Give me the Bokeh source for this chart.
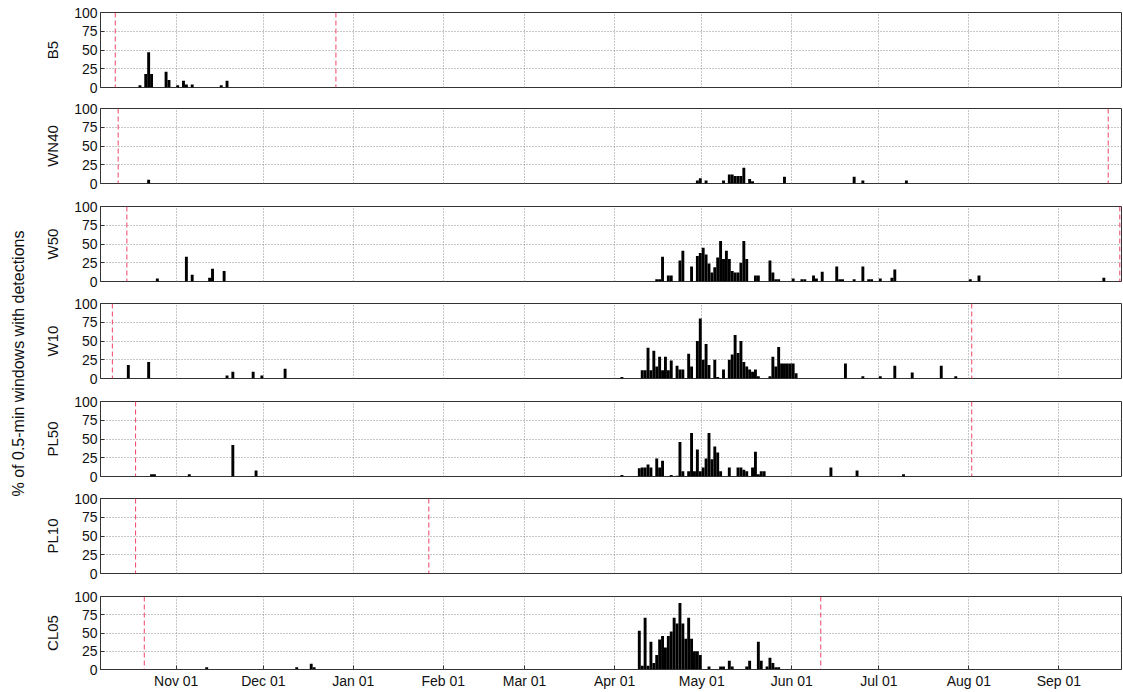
import numpy as np
import pandas as pd
from bokeh.plotting import figure
from bokeh.layouts import column, row
from bokeh.models import Range1d, FixedTicker, Span, ColumnDataSource
from bokeh.embed import file_html
from bokeh.resources import INLINE
from bokeh.core.properties import value

# ---------------- data ----------------
stations = ["B5", "WN40", "W50", "W10", "PL50", "PL10", "CL05"]
y_label = "% of 0.5-min windows with detections"

b5_dates = ["2012-10-19", "2012-10-21", "2012-10-22", "2012-10-23", "2012-10-28", "2012-10-29",
            "2012-11-01", "2012-11-03", "2012-11-04", "2012-11-06", "2012-11-16", "2012-11-18"]
b5_values = [3, 18, 47, 18, 21, 10, 3, 9, 4, 4, 3, 9]

wn40_dates = ["2012-10-22", "2013-04-29", "2013-04-30", "2013-05-02", "2013-05-08", "2013-05-10",
              "2013-05-11", "2013-05-12", "2013-05-13", "2013-05-14", "2013-05-15", "2013-05-17",
              "2013-05-18", "2013-05-29", "2013-06-22", "2013-06-25", "2013-07-10"]
wn40_values = [5, 4, 7, 4, 4, 12, 12, 10, 10, 10, 21, 6, 3, 9, 9, 4, 4]

w50_dates = ["2012-10-25", "2012-11-04", "2012-11-06", "2012-11-12", "2012-11-13", "2012-11-17",
             "2013-04-15", "2013-04-16", "2013-04-17", "2013-04-19", "2013-04-20", "2013-04-23",
             "2013-04-24", "2013-04-27", "2013-04-29", "2013-04-30", "2013-05-01", "2013-05-02",
             "2013-05-03", "2013-05-04", "2013-05-05", "2013-05-06", "2013-05-07", "2013-05-08",
             "2013-05-09", "2013-05-10", "2013-05-11", "2013-05-12", "2013-05-13", "2013-05-14",
             "2013-05-15", "2013-05-16", "2013-05-19", "2013-05-20", "2013-05-24", "2013-05-25",
             "2013-05-26", "2013-05-27", "2013-06-01", "2013-06-04", "2013-06-05", "2013-06-08",
             "2013-06-09", "2013-06-11", "2013-06-16", "2013-06-17", "2013-06-18", "2013-06-22",
             "2013-06-25", "2013-06-27", "2013-06-28", "2013-07-01", "2013-07-05", "2013-07-06",
             "2013-08-01", "2013-08-04", "2013-09-16"]
w50_values = [4, 33, 9, 5, 17, 14,
              3, 3, 33, 8, 8, 28,
              41, 20, 34, 38, 45, 36,
              24, 12, 19, 32, 54, 30,
              41, 30, 14, 12, 12, 25,
              54, 30, 8, 8, 28, 12,
              3, 3, 4, 3, 3, 8,
              4, 13, 20, 3, 3, 3,
              20, 3, 3, 4, 5, 16,
              3, 8, 5]

w10_dates = ["2012-10-15", "2012-10-22", "2012-11-18", "2012-11-20", "2012-11-27", "2012-11-30",
             "2012-12-08", "2013-04-03", "2013-04-10", "2013-04-11", "2013-04-12", "2013-04-13",
             "2013-04-14", "2013-04-15", "2013-04-16", "2013-04-17", "2013-04-18", "2013-04-19",
             "2013-04-20", "2013-04-22", "2013-04-23", "2013-04-24", "2013-04-26", "2013-04-27",
             "2013-04-29", "2013-04-30", "2013-05-01", "2013-05-02", "2013-05-03", "2013-05-05",
             "2013-05-06", "2013-05-08", "2013-05-10", "2013-05-11", "2013-05-12", "2013-05-13",
             "2013-05-14", "2013-05-15", "2013-05-16", "2013-05-17", "2013-05-18", "2013-05-19",
             "2013-05-20", "2013-05-24", "2013-05-25", "2013-05-26", "2013-05-27", "2013-05-28",
             "2013-05-29", "2013-05-30", "2013-05-31", "2013-06-01", "2013-06-02", "2013-06-19",
             "2013-06-25", "2013-07-01", "2013-07-06", "2013-07-12", "2013-07-22", "2013-07-27"]
w10_values = [18, 22, 4, 9, 9, 4,
              13, 2, 11, 11, 41, 11,
              37, 16, 29, 11, 29, 11,
              24, 17, 12, 12, 33, 16,
              50, 80, 25, 46, 18, 25,
              2, 12, 25, 32, 58, 34,
              50, 22, 16, 12, 9, 12,
              3, 3, 29, 16, 42, 20,
              20, 20, 20, 20, 7, 20,
              3, 3, 17, 8, 17, 3]

pl50_dates = ["2012-10-23", "2012-10-24", "2012-11-05", "2012-11-20", "2012-11-28", "2013-04-03",
              "2013-04-09", "2013-04-10", "2013-04-11", "2013-04-12", "2013-04-13", "2013-04-15",
              "2013-04-16", "2013-04-17", "2013-04-20", "2013-04-22", "2013-04-23", "2013-04-24",
              "2013-04-26", "2013-04-27", "2013-04-28", "2013-04-29", "2013-04-30", "2013-05-01",
              "2013-05-02", "2013-05-03", "2013-05-04", "2013-05-05", "2013-05-06", "2013-05-07",
              "2013-05-10", "2013-05-13", "2013-05-14", "2013-05-15", "2013-05-16", "2013-05-18",
              "2013-05-19", "2013-05-20", "2013-05-21", "2013-05-22", "2013-06-14", "2013-06-23",
              "2013-07-09"]
pl50_values = [3, 3, 3, 42, 8, 2,
               11, 12, 12, 16, 12, 24,
               12, 21, 2, 1, 46, 7,
               7, 58, 7, 36, 7, 12,
               24, 58, 23, 40, 32, 7,
               12, 12, 12, 9, 7, 12,
               33, 3, 7, 7, 12, 8,
               3]

pl10_dates = []
pl10_values = []

cl05_dates = ["2012-11-11", "2012-12-12", "2012-12-17", "2012-12-18", "2013-04-09", "2013-04-10",
              "2013-04-11", "2013-04-12", "2013-04-13", "2013-04-14", "2013-04-15", "2013-04-16",
              "2013-04-17", "2013-04-18", "2013-04-19", "2013-04-20", "2013-04-21", "2013-04-22",
              "2013-04-23", "2013-04-24", "2013-04-25", "2013-04-26", "2013-04-27", "2013-04-28",
              "2013-04-29", "2013-04-30", "2013-05-03", "2013-05-07", "2013-05-08", "2013-05-10",
              "2013-05-11", "2013-05-16", "2013-05-17", "2013-05-20", "2013-05-21", "2013-05-23",
              "2013-05-24", "2013-05-25", "2013-05-26", "2013-05-27"]
cl05_values = [3, 3, 8, 3, 53, 5,
               71, 5, 38, 9, 20, 41,
               46, 30, 46, 52, 71, 63,
               91, 63, 42, 71, 42, 25,
               25, 20, 4, 4, 4, 12,
               4, 4, 12, 38, 12, 4,
               16, 9, 3, 3]

# deployment start / end (red dashed lines)
deploy_start = ["2012-10-11", "2012-10-12", "2012-10-15", "2012-10-10", "2012-10-18", "2012-10-18", "2012-10-21"]
deploy_end = ["2012-12-26", "2013-09-18", "2013-09-22", "2013-08-02", "2013-08-02", "2013-01-27", "2013-06-11"]

month_ticks = ["2012-11-01", "2012-12-01", "2013-01-01", "2013-02-01", "2013-03-01", "2013-04-01",
               "2013-05-01", "2013-06-01", "2013-07-01", "2013-08-01", "2013-09-01"]
month_labels = ["Nov 01", "Dec 01", "Jan 01", "Feb 01", "Mar 01", "Apr 01",
                "May 01", "Jun 01", "Jul 01", "Aug 01", "Sep 01"]
y_ticks = [0, 25, 50, 75, 100]
x_start = "2012-10-05 22:00"
x_end = "2013-09-22 14:00"

all_dates = [b5_dates, wn40_dates, w50_dates, w10_dates, pl50_dates, pl10_dates, cl05_dates]
all_values = [b5_values, wn40_values, w50_values, w10_values, pl50_values, pl10_values, cl05_values]

# ---------------- plot ----------------
FONT = "Liberation Sans"
TXT = "#111111"
DAY_MS = 86400000


def ms(s):
    return int(pd.Timestamp(s).value // 10**6)


tick_ms = [ms(t) for t in month_ticks]
xr = Range1d(start=ms(x_start), end=ms(x_end))

PW = 1086
heights = [99, 98, 97, 98, 97, 98, 104]
tops = [12, 9, 9, 9, 9, 9, 9]
figs = []
n = len(stations)
for i in range(n):
    last = i == n - 1
    p = figure(width=PW, height=heights[i], x_axis_type="datetime",
               x_range=xr, y_range=Range1d(0, 100),
               output_backend="svg", toolbar_location=None,
               min_border_left=64, min_border_right=1, min_border_top=tops[i],
               min_border_bottom=heights[i] - tops[i] - 75)
    p.background_fill_color = "white"
    p.border_fill_color = "white"
    p.outline_line_color = "#333333"
    p.outline_line_width = 1

    xs = [ms(d) + DAY_MS // 2 for d in all_dates[i]]
    src = ColumnDataSource(dict(x=xs, top=all_values[i]))
    p.vbar(x="x", top="top", bottom=0, width=DAY_MS, source=src,
           fill_color="black", line_color=None)

    for loc in (deploy_start[i], deploy_end[i]):
        p.add_layout(Span(location=ms(loc), dimension="height", line_color="#ee4466",
                          line_width=1, line_dash="5 3"))

    p.xgrid.ticker = FixedTicker(ticks=tick_ms)
    p.ygrid.ticker = FixedTicker(ticks=y_ticks[1:-1])
    p.grid.grid_line_color = "#8c8c8c"
    p.grid.grid_line_dash = "1 2"
    p.grid.grid_line_width = 1

    p.yaxis.ticker = FixedTicker(ticks=y_ticks)
    p.yaxis.major_tick_in = 4
    p.yaxis.major_tick_out = 0
    p.yaxis.minor_tick_line_color = None
    p.yaxis.axis_line_color = "#333333"
    p.yaxis.major_tick_line_color = "#333333"
    p.yaxis.major_label_text_font = FONT
    p.yaxis.major_label_text_font_size = "14px"
    p.yaxis.major_label_text_color = TXT
    p.yaxis.major_label_standoff = 3
    p.yaxis.axis_label = stations[i]
    p.yaxis.axis_label_text_font = FONT
    p.yaxis.axis_label_text_font_size = "15px"
    p.yaxis.axis_label_text_font_style = "normal"
    p.yaxis.axis_label_text_color = TXT
    p.yaxis.axis_label_standoff = 10

    if last:
        p.xaxis.ticker = FixedTicker(ticks=tick_ms)
        p.xaxis.major_label_overrides = {t: lab for t, lab in zip(tick_ms, month_labels)}
        p.xaxis.major_tick_in = 4
        p.xaxis.major_tick_out = 0
        p.xaxis.minor_tick_line_color = None
        p.xaxis.axis_line_color = "#333333"
        p.xaxis.major_tick_line_color = "#333333"
        p.xaxis.major_label_text_font = FONT
        p.xaxis.major_label_text_font_size = "14px"
        p.xaxis.major_label_text_color = TXT
        p.xaxis.major_label_standoff = 3
    else:
        p.xaxis.visible = False
    figs.append(p)

total_h = sum(heights)
lab = figure(width=36, height=total_h, x_range=Range1d(0, 1), y_range=Range1d(0, total_h),
             output_backend="svg", toolbar_location=None, min_border=0,
             x_axis_location=None, y_axis_location=None)
lab.outline_line_color = None
lab.grid.visible = False
lab.text(x=[0.5], y=[total_h - 363], text=[y_label], angle=np.pi / 2, text_align="center",
         text_baseline="middle", text_font=value(FONT), text_font_size="16px",
         text_color=TXT)

layout = row(lab, column(*figs))
open("out.html", "w").write(file_html(layout, INLINE))
